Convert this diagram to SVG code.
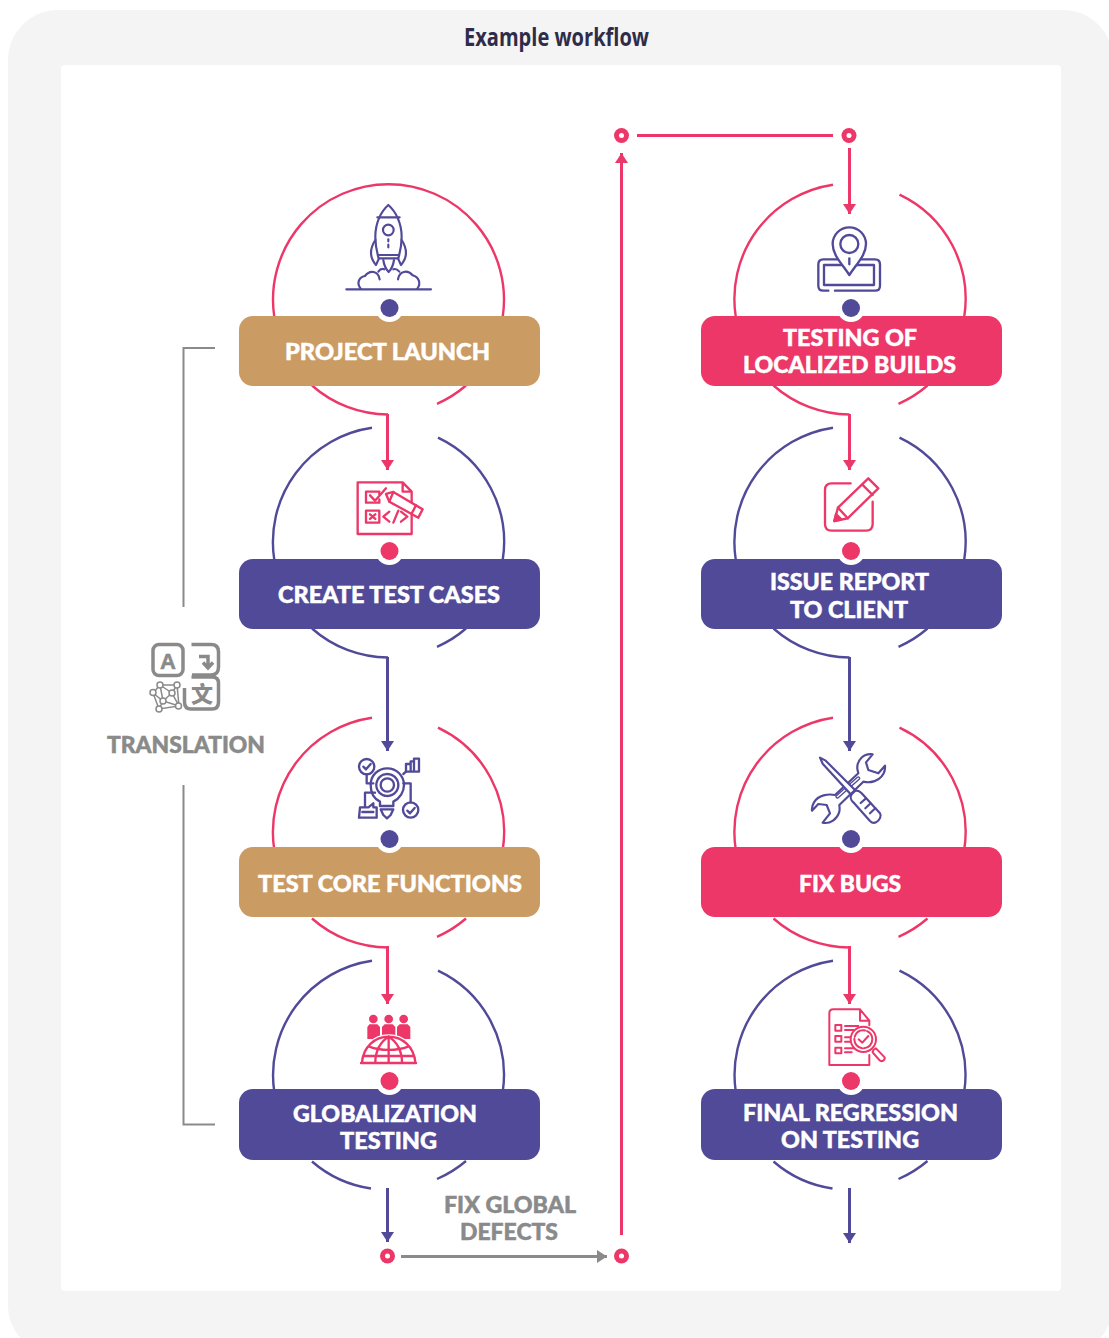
<svg xmlns="http://www.w3.org/2000/svg" width="1109" height="1338" viewBox="0 0 1109 1338">
<defs>
<style>
.arc{fill:none;stroke-width:2.4}
.p{stroke:#EC3768}.b{stroke:#504A98}
.lbl{font-family:Lato,"Liberation Sans",sans-serif;font-weight:900;font-size:23.5px;fill:#fff;stroke:#fff;stroke-width:.5}
.gl{fill:#8A8A8A;stroke:#8A8A8A}
.ln{fill:none;stroke-width:3}
.ic{fill:none;stroke-width:7;stroke-linejoin:round;stroke-linecap:round}
</style>
<marker id="ap" markerUnits="userSpaceOnUse" markerWidth="11" markerHeight="14" refX="10" refY="7" orient="auto"><path d="M0 0.500L10 7L0 13.500Z" fill="#EC3768"/></marker>
<marker id="ab" markerUnits="userSpaceOnUse" markerWidth="11" markerHeight="14" refX="10" refY="7" orient="auto"><path d="M0 0.500L10 7L0 13.500Z" fill="#504A98"/></marker>
<marker id="ag" markerUnits="userSpaceOnUse" markerWidth="11" markerHeight="14" refX="10" refY="7" orient="auto"><path d="M0 0.500L10 7L0 13.500Z" fill="#8A8A8A"/></marker>
</defs>
<rect width="1109" height="1338" fill="#fff"/>
<rect x="8" y="10" width="1105" height="1345" rx="50" fill="#F4F4F4"/>
<rect x="61" y="65" width="1000" height="1226" rx="4" fill="#fff"/>
<text id="title" x="464" y="46" textLength="185" lengthAdjust="spacingAndGlyphs" font-family="'Open Sans','Liberation Sans',sans-serif" font-size="25" font-weight="700" fill="#2F2C4A">Example workflow</text>

<g id="connectors">
<path class="ln" stroke="#8A8A8A" style="stroke-width:2" d="M215 348H183.500V607M183.500 785V1124.500H215"/>
<path class="ln p" marker-end="url(#ap)" d="M387.500 414V470"/>
<path class="ln b" marker-end="url(#ab)" d="M387.500 657V751"/>
<path class="ln p" marker-end="url(#ap)" d="M387.500 946V1004"/>
<path class="ln b" marker-end="url(#ab)" d="M387.500 1188V1242"/>
<path class="ln" stroke="#8A8A8A" marker-end="url(#ag)" d="M401 1256.500H607"/>
<path class="ln p" marker-end="url(#ap)" d="M621.500 1235V153"/>
<path class="ln p" d="M637 135.500H833"/>
<path class="ln p" marker-end="url(#ap)" d="M849.500 148V214"/>
<path class="ln p" marker-end="url(#ap)" d="M849.500 414V470"/>
<path class="ln b" marker-end="url(#ab)" d="M849.500 657V751"/>
<path class="ln p" marker-end="url(#ap)" d="M849.500 946V1004"/>
<path class="ln b" marker-end="url(#ab)" d="M849.500 1188V1243"/>
<g fill="#EC3768">
<circle cx="387.500" cy="1256" r="7.500"/><circle cx="621.500" cy="1256" r="7.500"/><circle cx="621.500" cy="135.500" r="7.500"/><circle cx="849" cy="135.500" r="7.500"/>
</g>
<g fill="#fff">
<circle cx="387.500" cy="1256" r="2.500"/><circle cx="621.500" cy="1256" r="2.500"/><circle cx="621.500" cy="135.500" r="2.500"/><circle cx="849" cy="135.500" r="2.500"/>
</g>
</g>

<!-- LEFT COLUMN -->
<g id="project-launch">
<path class="arc p" d="M274.300 317A115.500 115.500 0 1 1 502.700 317M312 385.500A115.500 115.500 0 0 0 388 414.500M437 403.800A115.500 115.500 0 0 0 466 385.500"/>
<rect x="239" y="316" width="301" height="70" rx="14" fill="#CB9B64"/>
<circle cx="389.500" cy="308" r="14" fill="#fff"/><circle cx="389.500" cy="308" r="9" fill="#504A98"/>
<text class="lbl" x="285" y="360" textLength="205" lengthAdjust="spacingAndGlyphs">PROJECT LAUNCH</text>
<g class="ic b" transform="translate(230 170) scale(.3333)" style="stroke-width:6.500">
<path d="M475 105C452 125 436 160 436 200C436 225 440 245 446 265H505C511 245 515 225 515 200C515 160 498 125 475 105Z"/>
<path d="M442 142H509M446 255H505"/>
<circle cx="475" cy="180" r="16"/>
<path d="M475 208V214M475 224V232"/>
<path d="M436 210C420 235 418 262 438 285L447 265M515 210C531 235 533 262 513 285L504 265"/>
<path d="M460 270C462 285 468 298 476 306C484 298 490 285 492 270"/>
<path d="M392 356C380 340 385 322 405 318C420 298 445 303 449 328M445 305C450 298 458 296 463 298M562 356C574 340 567 322 548 316C532 298 508 303 504 328M508 305C502 298 495 296 490 298"/>
<path d="M349 358H603"/>
</g>
</g>

<g id="create-test-cases">
<path class="arc b" d="M372 427.700A115.500 115.500 0 0 0 274.300 560M438 437.600A115.500 115.500 0 0 1 502.700 560M312 628.500A115.500 115.500 0 0 0 388 657.500M437 646.800A115.500 115.500 0 0 0 466 628.500"/>
<rect x="239" y="559" width="301" height="70" rx="14" fill="#504A98"/>
<circle cx="389.500" cy="551" r="14" fill="#fff"/><circle cx="389.500" cy="551" r="9" fill="#EC3768"/>
<text class="lbl" x="278" y="603" textLength="222" lengthAdjust="spacingAndGlyphs">CREATE TEST CASES</text>
<g class="ic p" transform="translate(330 470) scale(.3333)">
<path d="M245 100V65L218 37H83V192H245V136M218 37V65H245"/>
<path d="M148 72V65H108V98H148V88"/>
<path d="M120 76L135 92L168 55"/>
<rect x="108" y="122" width="40" height="36"/>
<path d="M120 133L136 147M136 133L120 147"/>
<path d="M178 125L160 140L178 155M205 122L190 158M213 125L232 140L213 155"/>
<path d="M168 72L190 66L278 118L265 143L178 95Z" fill="#fff"/>
<path d="M190 66L178 95M258 106L245 131"/>
</g>
</g>

<g id="test-core-functions">
<path class="arc p" d="M372 717.700A115.500 115.500 0 0 0 274.300 850M438 727.600A115.500 115.500 0 0 1 502.700 850M312 918.500A115.500 115.500 0 0 0 388 947.500M437 936.800A115.500 115.500 0 0 0 466 918.500"/>
<rect x="239" y="847" width="301" height="70" rx="14" fill="#CB9B64"/>
<circle cx="389.500" cy="839" r="14" fill="#fff"/><circle cx="389.500" cy="839" r="9" fill="#504A98"/>
<text class="lbl" x="258" y="892" textLength="264" lengthAdjust="spacingAndGlyphs">TEST CORE FUNCTIONS</text>
<g class="ic b" transform="translate(340 750) scale(.3333)">
<circle cx="80" cy="50" r="23"/><path d="M70 50L78 58L92 42"/>
<circle cx="212" cy="180" r="23"/><path d="M202 182L210 190L224 174"/>
<path d="M198 65V42H212V34H222V26H237V65ZM212 42V65M222 34V65"/>
<path d="M80 73V100H100M75 170V128H105M190 72L198 65M190 100H212V157"/>
<path d="M120 155C100 145 92 125 92 105C92 75 115 55 142 55C170 55 192 78 192 105C192 125 180 145 160 155V168H120Z"/>
<circle cx="142" cy="105" r="33" style="stroke-dasharray:8 3"/><circle cx="142" cy="105" r="20"/>
<path d="M122 178H160L152 195L141 205L130 195Z"/>
<path d="M60 172H85L100 160V172H110V203H57ZM67 186H100"/>
</g>
</g>

<g id="globalization-testing">
<path class="arc b" d="M372 960.700A115.500 115.500 0 0 0 274.300 1092M438 970.600A115.500 115.500 0 0 1 502.700 1092M312 1161.500A115.500 115.500 0 0 0 371 1188.500M437 1179A115.500 115.500 0 0 0 466 1161"/>
<rect x="239" y="1089" width="301" height="71" rx="14" fill="#504A98"/>
<circle cx="389.500" cy="1081" r="14" fill="#fff"/><circle cx="389.500" cy="1081" r="9" fill="#EC3768"/>
<text class="lbl" x="293" y="1122" textLength="184" lengthAdjust="spacingAndGlyphs">GLOBALIZATION</text>
<text class="lbl" x="340" y="1149" textLength="97" lengthAdjust="spacingAndGlyphs">TESTING</text>
<g transform="translate(350 1005) scale(.3333)" fill="#EC3768">
<circle cx="70" cy="42" r="13"/><circle cx="116" cy="42" r="13"/><circle cx="161" cy="42" r="13"/>
<path d="M58 58H82L90 66V102H52V66ZM104 58H128L136 66V90H96V66ZM149 58H173L181 66V102H141V66Z"/>
<path d="M36 175A80 80 0 0 1 196 175" fill="#fff" stroke="#fff" stroke-width="14"/>
<g class="ic p">
<path d="M36 172C40 125 75 95 116 95C157 95 192 125 196 172M33 174H198"/>
<path d="M116 95V172M116 95C90 110 76 140 76 172M116 95C142 110 156 140 156 172M58 125C90 138 142 138 174 125M42 153H190"/>
</g>
</g>
</g>

<!-- RIGHT COLUMN -->
<g id="testing-localized-builds">
<path class="arc p" d="M833 184.700A115.500 115.500 0 0 0 735.800 317M899.500 194.600A115.500 115.500 0 0 1 964.200 317M773.500 385.500A115.500 115.500 0 0 0 849.500 414.500M898.500 403.800A115.500 115.500 0 0 0 927.500 385.500"/>
<rect x="701" y="316" width="301" height="70" rx="14" fill="#EC3768"/>
<circle cx="851" cy="308" r="14" fill="#fff"/><circle cx="851" cy="308" r="9" fill="#504A98"/>
<text class="lbl" x="783" y="346" textLength="134" lengthAdjust="spacingAndGlyphs">TESTING OF</text>
<text class="lbl" x="743" y="373" textLength="213" lengthAdjust="spacingAndGlyphs">LOCALIZED BUILDS</text>
<g class="ic b" transform="translate(800 220) scale(.3333)">
<path d="M85 212H70Q55 212 55 197V133Q55 118 70 118H225Q240 118 240 133V197Q240 212 225 212H105"/>
<rect x="72" y="135" width="150" height="60"/>
<path d="M148 165C125 130 98 105 98 72C98 45 120 22 148 22C176 22 198 45 198 72C198 105 171 130 148 165Z" fill="#fff"/>
<circle cx="148" cy="72" r="27"/>
<path d="M148 115V133"/>
</g>
</g>

<g id="issue-report">
<path class="arc b" d="M833 427.700A115.500 115.500 0 0 0 735.800 560M899.500 437.600A115.500 115.500 0 0 1 964.200 560M773.500 628.500A115.500 115.500 0 0 0 849.500 657.500M898.500 646.800A115.500 115.500 0 0 0 927.500 628.500"/>
<rect x="701" y="559" width="301" height="70" rx="14" fill="#504A98"/>
<circle cx="851" cy="551" r="14" fill="#fff"/><circle cx="851" cy="551" r="9" fill="#EC3768"/>
<text class="lbl" x="770" y="590" textLength="159" lengthAdjust="spacingAndGlyphs">ISSUE REPORT</text>
<text class="lbl" x="790" y="618" textLength="118" lengthAdjust="spacingAndGlyphs">TO CLIENT</text>
<g class="ic p" transform="translate(800 470) scale(.3333)">
<path d="M152 40H95Q75 40 75 60V162Q75 182 95 182H198Q218 182 218 162V95"/>
<path d="M103 153L114 113L205 25L235 55L143 145Z"/>
<path d="M187 44L218 75M114 113L143 145"/>
<path d="M103 153L108 132L124 148Z" fill="#EC3768"/>
</g>
</g>

<g id="fix-bugs">
<path class="arc p" d="M833 717.700A115.500 115.500 0 0 0 735.800 850M899.500 727.600A115.500 115.500 0 0 1 964.200 850M773.500 918.500A115.500 115.500 0 0 0 849.500 947.500M898.500 936.800A115.500 115.500 0 0 0 927.500 918.500"/>
<rect x="701" y="847" width="301" height="70" rx="14" fill="#EC3768"/>
<circle cx="851" cy="839" r="14" fill="#fff"/><circle cx="851" cy="839" r="9" fill="#504A98"/>
<text class="lbl" x="799" y="892" textLength="102" lengthAdjust="spacingAndGlyphs">FIX BUGS</text>
<g class="ic b" transform="translate(800 745) scale(.3333)" style="stroke-width:6.500">
<path d="M218 28C192 24 170 44 172 72L175 85L105 150C85 146 55 150 42 172C36 182 35 190 36 197L55 177L80 180L90 205L68 233C90 238 112 222 118 200C120 190 118 184 118 180L190 110C225 118 258 95 255 62L235 85L205 75L198 52Z"/>
<path d="M112 155L175 100" style="stroke-width:12;stroke:#504A98"/><path d="M112 155L175 100" style="stroke-width:4;stroke:#fff"/>
<path d="M60 38L77 47L165 135L152 148L68 56Z" fill="#fff"/>
<path d="M165 138C172 135 178 138 185 145L240 205C245 212 240 225 228 232C222 235 215 233 210 228L160 172C152 165 150 155 155 148Z" fill="#fff"/>
<path d="M182 174L198 160M196 190L212 175M210 205L226 190"/>
</g>
</g>

<g id="final-regression">
<path class="arc b" d="M833 960.700A115.500 115.500 0 0 0 735.800 1092M899.500 970.600A115.500 115.500 0 0 1 964.200 1092M773.500 1161.500A115.500 115.500 0 0 0 832.500 1188.500M898.500 1179A115.500 115.500 0 0 0 927.500 1161"/>
<rect x="701" y="1089" width="301" height="71" rx="14" fill="#504A98"/>
<circle cx="851" cy="1081" r="14" fill="#fff"/><circle cx="851" cy="1081" r="9" fill="#EC3768"/>
<text class="lbl" x="743" y="1121" textLength="215" lengthAdjust="spacingAndGlyphs">FINAL REGRESSION</text>
<text class="lbl" x="781" y="1148" textLength="138" lengthAdjust="spacingAndGlyphs">ON TESTING</text>
<g class="ic p" transform="translate(810 1000) scale(.3333)" style="stroke-width:6">
<path d="M178 76V62L150 28H70Q58 28 58 40V195H178V165M150 28V62H178"/>
<path d="M76 75H94V92H76ZM76 108H94V125H76ZM76 143H94V160H76Z"/>
<path d="M105 78H145M105 90H130M105 112H122M105 125H122M105 145H135M105 157H125"/>
<circle cx="160" cy="118" r="38" fill="#fff"/><circle cx="160" cy="118" r="27" style="stroke-dasharray:40 6"/>
<path d="M146 118L157 128L175 108"/>
<path d="M190 150L198 145L224 172C226 180 216 188 208 180L188 157Z" fill="#fff"/>
</g>
</g>

<g id="translation">
<text x="107" y="753" textLength="158" lengthAdjust="spacingAndGlyphs" class="lbl gl" style="fill:#8A8A8A;stroke:#8A8A8A">TRANSLATION</text>
<g fill="none" stroke="#8A8A8A" stroke-width="3.500">
<rect x="153" y="644.500" width="30" height="31" rx="6"/>
<path d="M191.500 644.500H211Q218.500 644.500 218.500 652V667Q218.500 675 211 675H192"/>
<path d="M191.500 677H212Q218.500 677 218.500 683V702Q218.500 709 212 709H191Q184.500 709 184.500 702V688"/>
<path d="M199 656.500H208V666M203 662.500L208 668L213 662.500"/>
</g>
<text x="168" y="669" text-anchor="middle" font-family="'Liberation Sans',sans-serif" font-weight="700" font-size="22" fill="#8A8A8A" stroke="#8A8A8A" stroke-width=".5">A</text>
<text x="202" y="702" text-anchor="middle" font-family="'Noto Sans CJK SC',sans-serif" font-weight="900" font-size="22" fill="#8A8A8A">文</text>
<g fill="#fff" stroke="#8A8A8A" stroke-width="1.500">
<path fill="none" d="M160 685L177 685L172 693L179 706L159 709L153 693L160 685L163 701L179 706M172 693L163 701L153 693M177 685L179 706M160 685L172 693M163 701L159 709"/>
<circle cx="160" cy="685" r="3"/><circle cx="177" cy="685" r="3"/><circle cx="153" cy="692.500" r="3"/><circle cx="172" cy="693" r="3"/><circle cx="163" cy="701" r="3"/><circle cx="178.500" cy="706" r="3"/><circle cx="159" cy="709" r="3"/>
</g>
</g>

<g id="fix-global-defects">
<text class="lbl gl" style="fill:#8A8A8A;stroke:#8A8A8A" x="444" y="1213" textLength="132" lengthAdjust="spacingAndGlyphs">FIX GLOBAL</text>
<text class="lbl gl" style="fill:#8A8A8A;stroke:#8A8A8A" x="460" y="1240" textLength="98" lengthAdjust="spacingAndGlyphs">DEFECTS</text>
</g>
</svg>
